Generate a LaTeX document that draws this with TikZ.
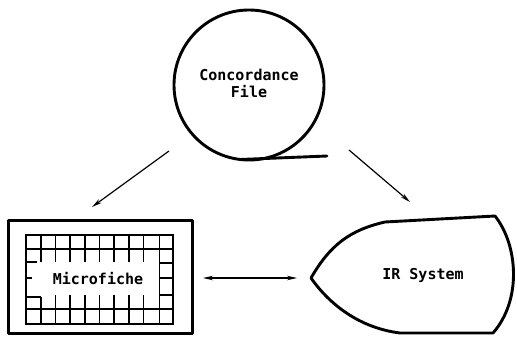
\documentclass[tikz,border=0pt]{standalone}
\usepackage{fontspec}
\setmonofont{DejaVu Sans Mono}
\usetikzlibrary{arrows.meta}
\tikzset{
  heavy/.style={line width=2.9pt, line join=round},
  gridline/.style={line width=1.6pt},
  flow/.style={line width=1.2pt, -{Stealth[length=10pt,width=4.5pt]}},
  label/.style={font=\ttfamily\bfseries\fontsize{15}{17}\selectfont, align=center, inner sep=0pt},
}
\begin{document}
\begin{tikzpicture}[x=1pt,y=-1pt]
\useasboundingbox (0,0) rectangle (517,337);

% Concordance file: a reel drawn as a circle with a tail of tape
\node[heavy, draw, circle, minimum size=150pt, label] (cf) at (249,85) {};
\node[label] (cftext) at (249,83) {Concordance\\File};
\coordinate (tailstart) at (240,159.5);
\coordinate (tailend) at (327,156);
\draw[heavy, line cap=round] (tailstart) -- (tailend);

% Microfiche: frame with a grid of cells round its edge
\node[heavy, draw, minimum width=184pt, minimum height=113pt, inner sep=0pt] (mf) at (100.5,277) {};
\draw[gridline] (26,235) rectangle (173,324);
\draw[gridline] (26,249) -- (173,249);
\draw[gridline] (26,309) -- (173,309);
\foreach \i in {1,...,8} {
  \draw[gridline] (26+14.7*\i,235) -- (26+14.7*\i,262);
}
\foreach \i in {2,...,8} {
  \draw[gridline] (26+14.7*\i,295) -- (26+14.7*\i,324);
}
\draw[gridline] (40.7,297) -- (40.7,324);
\draw[gridline] (159.3,235) -- (159.3,324);
% left column cells
\draw[gridline] (26,262) -- (37,262);
\draw[gridline] (26,278) -- (32,278);
\draw[gridline] (26,297) -- (40.7,297);
% right column cells
\foreach \y in {263,278,295} {
  \draw[gridline] (159.3,\y) -- (173,\y);
}
\node[label] (mftext) at (98,279) {Microfiche};

% IR system: pointed shield shape
\draw[heavy] (311,278) .. controls (330,245) and (350,230) .. (385,222)
  -- (495,216) .. controls (518,245) and (522,300) .. (493,333)
  -- (400,333) .. controls (360,328) and (330,305) .. (311,278) -- cycle;
\coordinate (ir) at (311,278);
\node[label] (irtext) at (423,275) {IR System};

% connectors
\coordinate (cfl) at (169,151);
\coordinate (cfr) at (349,150);
\coordinate (mfin) at (92,207);
\coordinate (irin) at (410,202);
\coordinate (mfout) at (203,278);
\coordinate (irout) at (297,278);
\draw[flow] (cfl) -- (mfin);
\draw[flow] (cfr) -- (irin);
\draw[line width=1.2pt, {Stealth[length=10pt,width=4.5pt]}-{Stealth[length=10pt,width=4.5pt]}] (mfout) -- (irout);
\end{tikzpicture}
\end{document}
